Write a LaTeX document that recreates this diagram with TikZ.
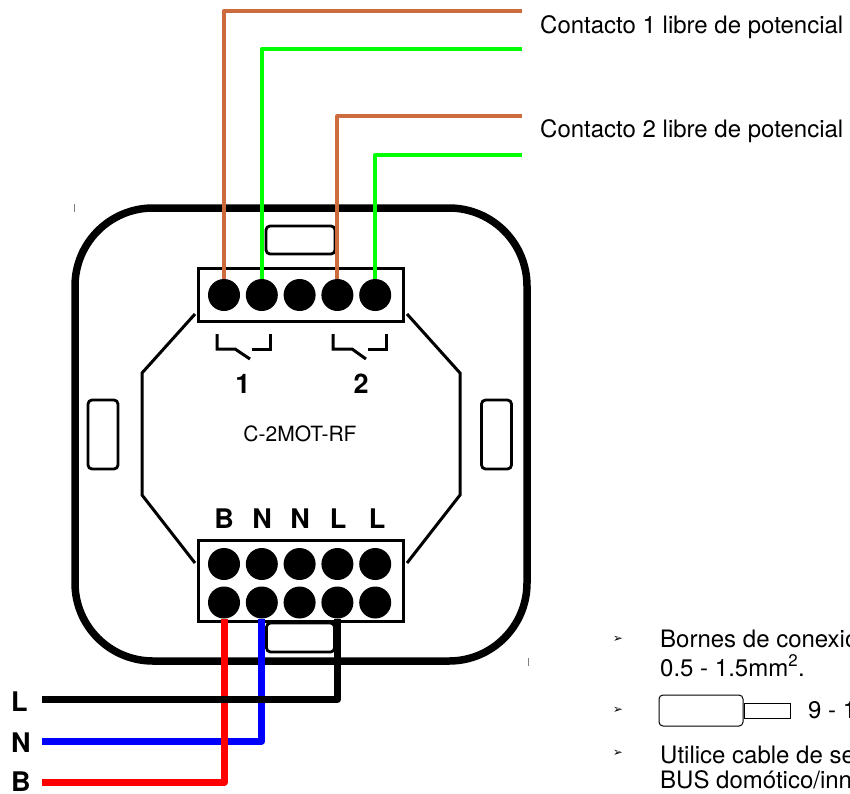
\documentclass[tikz,border=0pt]{standalone}
\usepackage{fontspec}
\setmainfont{TeX Gyre Heros}
\newfontfamily\markfont{DejaVu Sans}
\usetikzlibrary{positioning}
\definecolor{wirebrown}{RGB}{204,107,61}
\tikzset{node distance=37.8pt,
    term/.style={circle, fill=black, inner sep=0pt, minimum size=32pt},
    block/.style={draw, line width=3pt, fill=white, inner sep=0pt, minimum width=205pt},
    tab/.style={draw, line width=2.8pt, fill=white, rounded corners=4pt, inner sep=0pt},
    frame/.style={draw, line width=7.5pt, rounded corners=78pt, inner sep=0pt, minimum width=452pt, minimum height=453pt},
    outline/.style={line width=3pt},
    thinwire/.style={line width=4pt, line join=round},
    mainwire/.style={line width=7pt, line join=round},
    tag/.style={inner sep=0pt, anchor=base, font=\fontsize{27}{27}\selectfont\bfseries},
    note/.style={inner sep=0pt, anchor=base west, font=\fontsize{24}{29}\selectfont},
    bullet/.style={inner sep=0pt, font=\markfont\fontsize{12}{12}\selectfont}}

\begin{document}
\begin{tikzpicture}[x=1pt,y=-1pt]
            \useasboundingbox (0,0) rectangle (850,793);
            \clip (0,0) rectangle (850,793);
            \node[frame] (body) at (301,434.5) {};
            \draw[outline] (195,314) -- (142,373) -- (142,495) -- (195,563);
            \draw[outline] (407,314) -- (460,373) -- (460,495) -- (407,563);

            \node[block, minimum height=53pt] (top) at (300.5,294.5) {};
            \node[block, minimum height=81pt] (bottom) at (300.5,581) {};
            \node[tab, minimum width=69pt, minimum height=28pt] (tabn) at (300.5,240) {};
            \node[tab, minimum width=30pt, minimum height=69pt] (tabw) at (103,434.5) {};
            \node[tab, minimum width=30pt, minimum height=69pt] (tabe) at (496.5,434.5) {};

            \node[term] (t1) at (224,295) {};
            \node[term, right of=t1] (t2) {};
            \node[term, right of=t2] (t3) {};
            \node[term, right of=t3] (t4) {};
            \node[term, right of=t4] (t5) {};

            \node[term] (u1) at (224,564) {};
            \node[term, right of=u1] (u2) {};
            \node[term, right of=u2] (u3) {};
            \node[term, right of=u3] (u4) {};
            \node[term, right of=u4] (u5) {};
            \node[term] (v1) at (224,602.5) {};
            \node[term, right of=v1] (v2) {};
            \node[term, right of=v2] (v3) {};
            \node[term, right of=v3] (v4) {};
            \node[term, right of=v4] (v5) {};

            \coordinate (c1) at (522,10.7);
            \coordinate (c2) at (522,49);
            \coordinate (c3) at (522,116);
            \coordinate (c4) at (522,155);
            \coordinate (lineL) at (42,699.5);
            \coordinate (lineN) at (42,741);
            \coordinate (lineB) at (42,782.5);

            \draw[thinwire, wirebrown] (t1.north) |- (c1);
            \draw[thinwire, green] (t2.north) |- (c2);
            \draw[thinwire, wirebrown] (t4.north) |- (c3);
            \draw[thinwire, green] (t5.north) |- (c4);

            \draw[mainwire, blue] (v2.south) |- (lineN);
            \node[tab, minimum width=68pt, minimum height=29pt] (tabs) at (300.5,637.5) {};
            \draw[mainwire, red] (v1.south) |- (lineB);
            \draw[mainwire, black] (v4.south) |- (lineL);

            \draw[outline] (217,334) -- (217,349) -- (235,349) -- (250,359);
            \draw[outline] (252,349) -- (270,349) -- (270,334);
            \draw[outline] (333,334) -- (333,349) -- (352,349) -- (366,359);
            \draw[outline] (368,349) -- (386,349) -- (386,334);

            \node[tag] (sw1) at (243,393) {1};
            \node[tag] (sw2) at (361,393) {2};
            \node[inner sep=0pt, anchor=base, font=\fontsize{21}{21}\selectfont] (model) at (300,441.5) {C-2MOT-RF};

            \node[tag] (lb) at (224,528) {B};
            \node[tag] (ln1) at (262,528) {N};
            \node[tag] (ln2) at (300,528) {N};
            \node[tag] (ll1) at (338,528) {L};
            \node[tag] (ll2) at (377,528) {L};

            \node[tag, anchor=base west] (inL) at (11,711) {L};
            \node[tag, anchor=base west] (inN) at (11,752) {N};
            \node[tag, anchor=base west] (inB) at (11,791.5) {B};

            \node[note] (k1) at (540,33) {Contacto 1 libre de potencial};
            \node[note] (k2) at (540,137) {Contacto 2 libre de potencial};

            \node[bullet] (m1) at (618,639) {➢};
            \node[bullet] (m2) at (618,710) {➢};
            \node[bullet] (m3) at (618,753) {➢};
            \node[note] (n1) at (660,647) {Bornes de conexió};
            \node[note] (n2) at (660,676) {0.5 - 1.5mm\textsuperscript{2}.};
            \node[draw, line width=1pt, fill=white, rounded corners=4pt, inner sep=0pt, minimum width=84pt, minimum height=31pt] (sleeve) at (701,710.5) {};
            \node[draw, line width=1pt, inner sep=0pt, minimum width=46pt, minimum height=15pt, right=0pt of sleeve] (strip) {};
            \node[note] (n3) at (808,718) {9 - 1};
            \node[note] (n4) at (660,763) {Utilice cable de se};
            \node[note] (n5) at (660,788.5) {BUS domótico/inn};

            \draw[line width=0.8pt, gray] (74,204) -- (74,212);
            \draw[line width=0.8pt, gray] (528,658) -- (528,666);
        \end{tikzpicture}
\end{document}
